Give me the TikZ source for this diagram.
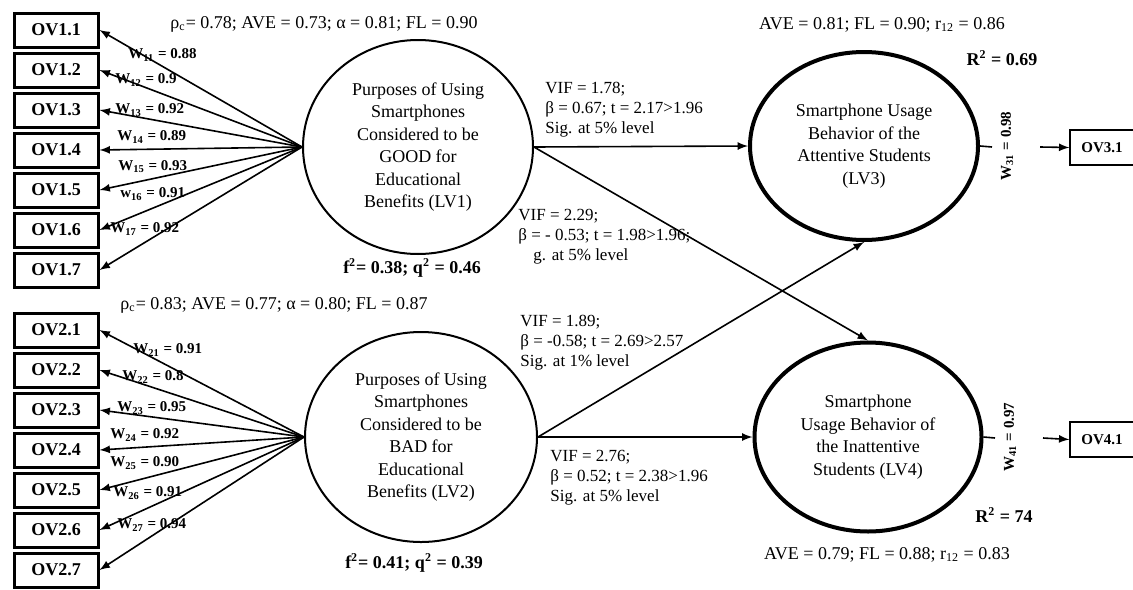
\documentclass[tikz,border=0pt]{standalone}
\usepackage{fontspec}
\setmainfont{Liberation Serif}
\usetikzlibrary{shapes.geometric}
\begin{document}
\begin{tikzpicture}[x=0.5pt,y=-0.5pt,>=latex,
    ovbox/.style={draw,line width=1.5pt,minimum width=42pt,minimum height=17pt,inner sep=0pt,font=\fontsize{9}{11}\selectfont\bfseries},
    ovthin/.style={draw,line width=0.6pt,minimum width=32pt,minimum height=17.5pt,inner sep=0pt,font=\fontsize{7.5}{9}\selectfont\bfseries},
    lvnode/.style={ellipse,draw,align=center,inner sep=0pt,font=\fontsize{9}{11.25}\selectfont},
    wlab/.style={anchor=west,inner sep=0pt,font=\fontsize{7.5}{9}\selectfont\bfseries},
    statlab/.style={inner sep=0pt,font=\fontsize{9}{11}\selectfont},
    pathlab/.style={anchor=west,align=left,inner sep=0pt,font=\fontsize{8.5}{10}\selectfont},
    link/.style={->,line width=0.8pt}]
  \useasboundingbox (0,0) rectangle (1133,589);
  % indicators of LV1 and LV2
  \node[ovbox] (ov11) at (56,30) {OV1.1};
  \node[ovbox] (ov12) at (56,70) {OV1.2};
  \node[ovbox] (ov13) at (56,110) {OV1.3};
  \node[ovbox] (ov14) at (56,150) {OV1.4};
  \node[ovbox] (ov15) at (56,190) {OV1.5};
  \node[ovbox] (ov16) at (56,230) {OV1.6};
  \node[ovbox] (ov17) at (56,270) {OV1.7};
  \node[ovbox] (ov21) at (56,330) {OV2.1};
  \node[ovbox] (ov22) at (56,370) {OV2.2};
  \node[ovbox] (ov23) at (56,410) {OV2.3};
  \node[ovbox] (ov24) at (56,450) {OV2.4};
  \node[ovbox] (ov25) at (56,490) {OV2.5};
  \node[ovbox] (ov26) at (56,530) {OV2.6};
  \node[ovbox] (ov27) at (56,570) {OV2.7};
  % latent variables
  \node[lvnode,line width=1pt,minimum width=115pt,minimum height=107pt] (lv1) at (418,147) {Purposes of Using\\Smartphones\\Considered to be\\GOOD for\\Educational\\Benefits (LV1)};
  \node[lvnode,line width=1pt,minimum width=116pt,minimum height=105pt] (lv2) at (421,437) {Purposes of Using\\Smartphones\\Considered to be\\BAD for\\Educational\\Benefits (LV2)};
  \node[lvnode,line width=2pt,minimum width=114pt,minimum height=94pt] (lv3) at (864,146) {Smartphone Usage\\Behavior of the\\Attentive Students\\(LV3)};
  \node[lvnode,line width=2pt,minimum width=113.5pt,minimum height=94.5pt] (lv4) at (868,437) {Smartphone\\Usage Behavior of\\the Inattentive\\Students (LV4)};
  \node[ovthin] (ov31) at (1102,147.5) {OV3.1};
  \node[ovthin] (ov41) at (1102,439.5) {OV4.1};
  % loadings
  \draw[link] (lv1.west) -- (ov11.east);
  \draw[link] (lv1.west) -- (ov12.east);
  \draw[link] (lv1.west) -- (ov13.east);
  \draw[link] (lv1.west) -- (ov14.east);
  \draw[link] (lv1.west) -- (ov15.east);
  \draw[link] (lv1.west) -- (ov16.east);
  \draw[link] (lv1.west) -- (ov17.east);
  \draw[link] (lv2.west) -- (ov21.east);
  \draw[link] (lv2.west) -- (ov22.east);
  \draw[link] (lv2.west) -- (ov23.east);
  \draw[link] (lv2.west) -- (ov24.east);
  \draw[link] (lv2.west) -- (ov25.east);
  \draw[link] (lv2.west) -- (ov26.east);
  \draw[link] (lv2.west) -- (ov27.east);
  \node[wlab] (w11) at (128,55) {W\textsubscript{11} = 0.88};
  \node[wlab] (w12) at (115,80) {W\textsubscript{12} = 0.9};
  \node[wlab] (w13) at (115,110) {W\textsubscript{13} = 0.92};
  \node[wlab] (w14) at (117,137) {W\textsubscript{14} = 0.89};
  \node[wlab] (w15) at (118,167) {W\textsubscript{15} = 0.93};
  \node[wlab] (w16) at (120,194) {w\textsubscript{16} = 0.91};
  \node[wlab] (w17) at (110,229) {W\textsubscript{17} = 0.92};
  \node[wlab] (w21) at (133,350) {W\textsubscript{21} = 0.91};
  \node[wlab] (w22) at (122,377) {W\textsubscript{22} = 0.8};
  \node[wlab] (w23) at (117,408) {W\textsubscript{23} = 0.95};
  \node[wlab] (w24) at (110,435) {W\textsubscript{24} = 0.92};
  \node[wlab] (w25) at (110,463) {W\textsubscript{25} = 0.90};
  \node[wlab] (w26) at (113,493) {W\textsubscript{26} = 0.91};
  \node[wlab] (w27) at (117,525) {W\textsubscript{27} = 0.94};
  % structural paths
  \draw[link] (lv1.east) -- (lv3.west);
  \draw[link] (lv1.east) -- (lv4.north);
  \draw[link] (lv2.east) -- (lv3.south);
  \draw[link] (lv2.east) -- (lv4.west);
  \node[pathlab] (p13) at (545,110) {VIF = 1.78;\\β = 0.67; t = 2.17>1.96\\Sig. at 5\% level};
  \node[pathlab] (p14) at (518,237) {VIF = 2.29;\\β = - 0.53; t = 1.98>1.96;\\\hspace*{7.5pt}g. at 5\% level};
  \node[pathlab] (p23) at (520,343) {VIF = 1.89;\\β = -0.58; t = 2.69>2.57\\Sig. at 1\% level};
  \node[pathlab] (p24) at (550,478) {VIF = 2.76;\\β = 0.52; t = 2.38>1.96\\Sig. at 5\% level};
  % outer indicators
  \coordinate (w3a) at (992,147);
  \coordinate (w3b) at (1040,147);
  \coordinate (w4a) at (995,438);
  \coordinate (w4b) at (1043,438);
  \draw[line width=0.8pt] (lv3.east) -- (w3a);
  \draw[link] (w3b) -- (ov31.west);
  \draw[line width=0.8pt] (lv4.east) -- (w4a);
  \draw[link] (w4b) -- (ov41.west);
  \node[wlab,anchor=center,rotate=90] (w31) at (1007,146) {W\textsubscript{31} = 0.98};
  \node[wlab,anchor=center,rotate=90] (w41) at (1010,437) {W\textsubscript{41} = 0.97};
  % fit statistics
  \node[statlab] (fit1) at (324,24) {ρ\textsubscript{c}= 0.78; AVE = 0.73; α = 0.81; FL = 0.90};
  \node[statlab] (fit2) at (274,305) {ρ\textsubscript{c}= 0.83; AVE = 0.77; α = 0.80; FL = 0.87};
  \node[statlab,font=\fontsize{9}{11}\selectfont\bfseries] (eff1) at (412,268) {f\textsuperscript{2}= 0.38; q\textsuperscript{2} = 0.46};
  \node[statlab,font=\fontsize{9}{11}\selectfont\bfseries] (eff2) at (414,563) {f\textsuperscript{2}= 0.41; q\textsuperscript{2} = 0.39};
  \node[statlab] (fit3) at (882,25) {AVE = 0.81; FL = 0.90; r\textsubscript{12} = 0.86};
  \node[statlab] (fit4) at (887,555) {AVE = 0.79; FL = 0.88; r\textsubscript{12} = 0.83};
  \node[statlab,font=\fontsize{9}{11}\selectfont\bfseries] (rsq3) at (1002,58) {R\textsuperscript{2} = 0.69};
  \node[statlab,font=\fontsize{9}{11}\selectfont\bfseries] (rsq4) at (1004,515) {R\textsuperscript{2} = 74};
\end{tikzpicture}
\end{document}
